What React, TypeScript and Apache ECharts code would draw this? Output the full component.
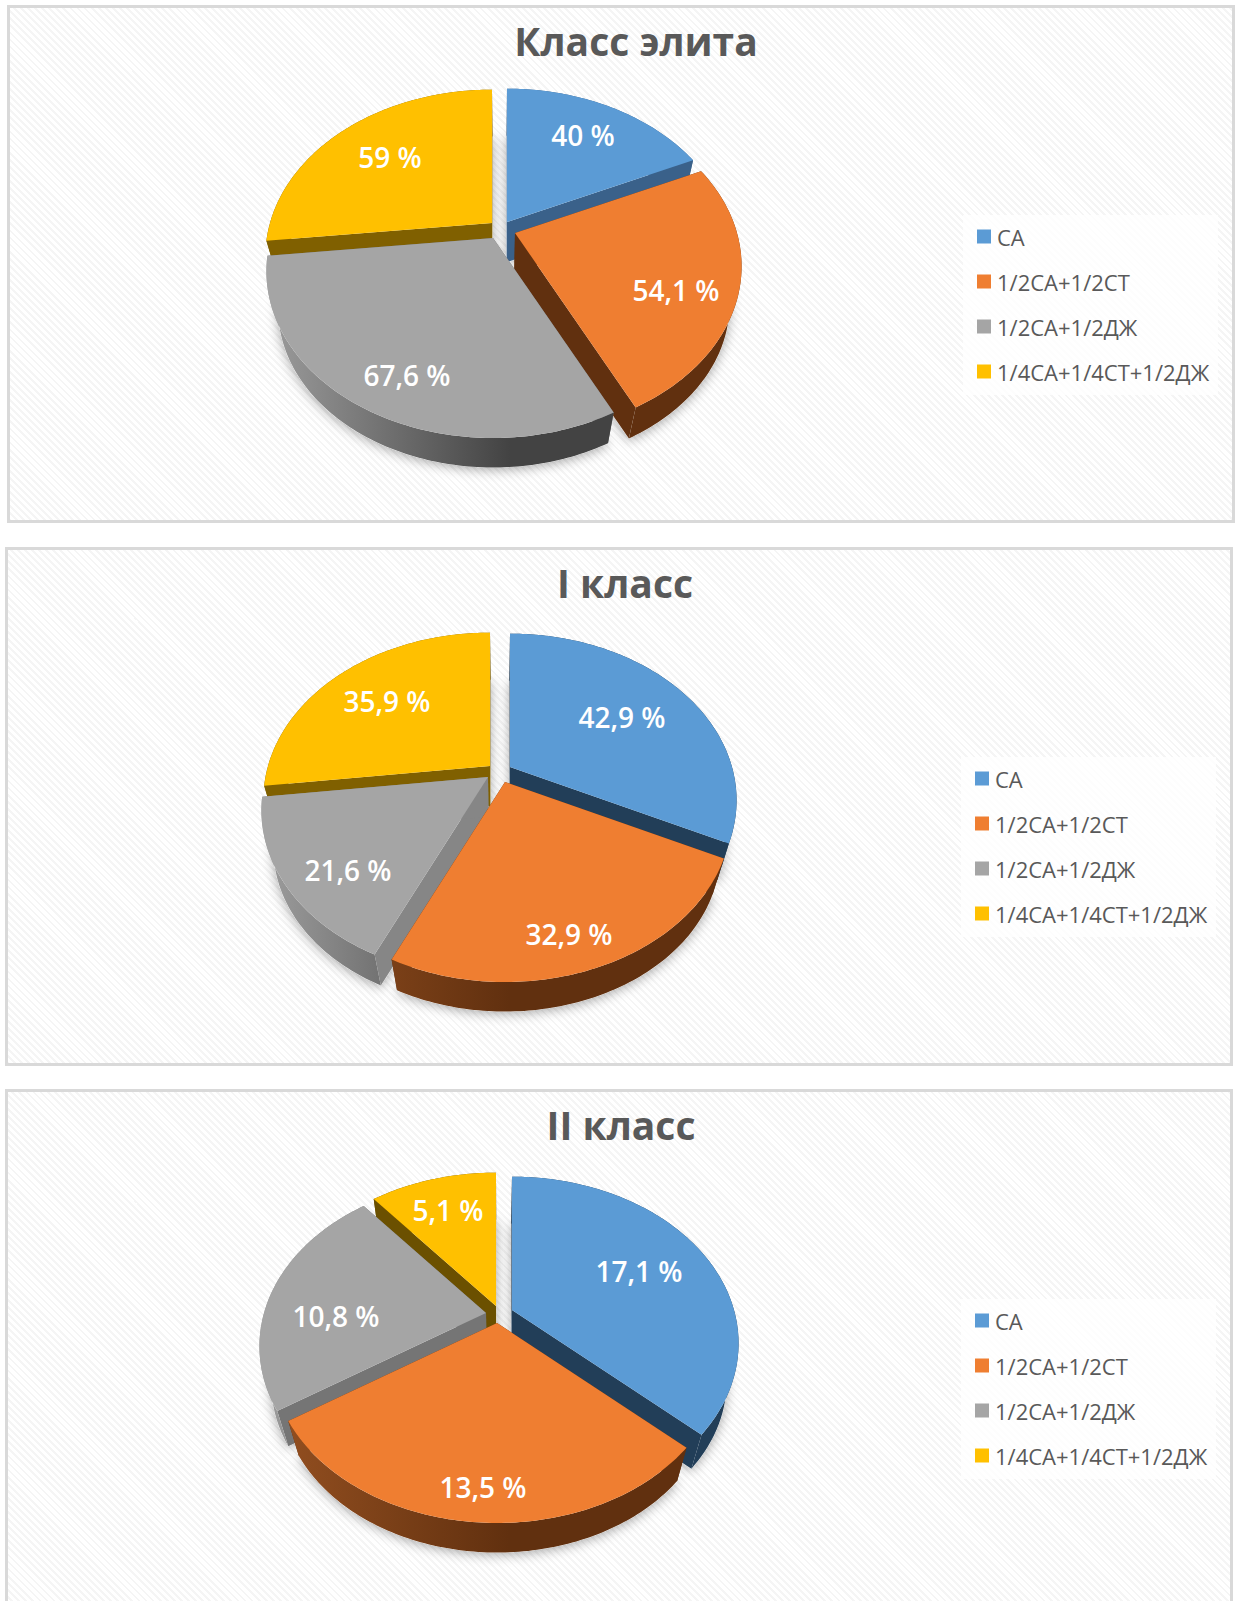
import React, { useEffect, useRef } from "react";
import * as echarts from "echarts";

const categories = ["СА", "1/2СА+1/2СТ", "1/2СА+1/2ДЖ", "1/4СА+1/4СТ+1/2ДЖ"];
const titles = ["Класс элита", "I класс", "II класс"];
const eliteValues = [40, 54.1, 67.6, 59];
const firstClassValues = [42.9, 32.9, 21.6, 35.9];
const secondClassValues = [17.1, 13.5, 10.8, 5.1];
const valueSets = [eliteValues, firstClassValues, secondClassValues];

const topColors = ["#5b9bd5", "#ef7e31", "#a5a5a5", "#ffc000"];

const Rx = 222;
const Ry = 160;
const PERSP = 0.2;
const VANISH = 800;
const SHRINK = 0.95;
const FONT = "'Open Sans', 'Noto Sans', sans-serif";

const layouts = [
  {
    frame: [7, 5, 1228, 518],
    center: [500, 228],
    apexes: [[507, 222], [515, 233], [493, 238], [492, 223]],
    labels: [[583, 135], [676, 290], [407, 375], [390, 157]],
    wall: ["#3a618a", "#61300f", "#6e6e6e", "#806000"],
    titleAt: [636, 40],
    legend: [977, 225],
    legendBox: [963, 215, 255, 180],
  },
  {
    frame: [5, 547, 1228, 519],
    center: [500, 773],
    apexes: [[510, 767], [505, 782], [488, 777], [490, 766]],
    labels: [[622, 717], [569, 934], [348, 870], [387, 701]],
    wall: ["#223e58", "#61300f", "#868686", "#806000"],
    titleAt: [625, 582],
    legend: [975, 767],
    legendBox: [961, 757, 255, 180],
  },
  {
    frame: [5, 1089, 1228, 560],
    center: [499, 1314],
    apexes: [[512, 1310], [497, 1323], [486, 1313], [496, 1306]],
    labels: [[639, 1271], [483, 1487], [336, 1316], [448, 1210]],
    wall: ["#223e58", "#61300f", "#757575", "#6b5000"],
    titleAt: [621, 1124],
    legend: [975, 1309],
    legendBox: [961, 1299, 255, 180],
  },
];

function geometry(cx: number, cy: number, ax: number, ay: number, start: number, sweep: number) {
  const project = (theta: number, r: number) => {
    const u = r * Math.sin(theta);
    const v = -r * Math.cos(theta);
    const w = 1 - PERSP * v;
    return [ax + (Rx * u) / w, ay + (Ry * v) / w];
  };
  const low = (p: number[]) => [
    cx + (p[0] - cx) * SHRINK,
    cy + VANISH + (p[1] - cy - VANISH) * SHRINK,
  ];
  const steps = Math.max(4, Math.round((sweep * 180) / Math.PI));
  const arc = () => {
    const pts: number[][] = [];
    for (let i = 0; i <= steps; i++) pts.push(project(start + (sweep * i) / steps, 1));
    return pts;
  };
  return { project, arc, low };
}

function rimFill(index: number, cx: number, wall: string) {
  if (index === 1) {
    return {
      type: "linear", x: cx - Rx, y: 0, x2: cx + 10, y2: 0, global: true,
      colorStops: [{ offset: 0, color: "#934f20" }, { offset: 1, color: "#61300f" }],
    };
  }
  if (index === 2) {
    return {
      type: "linear", x: cx - Rx, y: 0, x2: cx + 10, y2: 0, global: true,
      colorStops: [{ offset: 0, color: "#989898" }, { offset: 1, color: "#434343" }],
    };
  }
  return wall;
}

function sliceGeometry(layout: any, index: number, ox: number, oy: number, start: number, sweep: number) {
  return geometry(
    layout.center[0] - ox,
    layout.center[1] - oy,
    layout.apexes[index][0] - ox,
    layout.apexes[index][1] - oy,
    start,
    sweep
  );
}

function sliceRenderer(layout: any, index: number, ox: number, oy: number) {
  return (_params: any, api: any) => {
    const value = api.value(0);
    const before = api.value(1);
    const total = api.value(2);
    const start = (before / total) * Math.PI * 2;
    const sweep = (value / total) * Math.PI * 2;
    const cx = layout.center[0] - ox;
    const g = sliceGeometry(layout, index, ox, oy, start, sweep);
    const top = g.arc();
    const bottom = top.map(g.low);
    const apex = g.project(0, 0);
    const wallFill = layout.wall[index];
    const quad = (p: number[], q: number[]) => [p, q, g.low(q), g.low(p)];
    const [lx, ly] = layout.labels[index];
    return {
      type: "group",
      children: [
        { type: "polygon", shape: { points: quad(apex, top[0]) }, style: { fill: wallFill } },
        { type: "polygon", shape: { points: quad(apex, top[top.length - 1]) }, style: { fill: wallFill } },
        {
          type: "polygon",
          shape: { points: top.concat(bottom.slice().reverse()) },
          style: { fill: rimFill(index, cx, wallFill) },
        },
        { type: "polygon", shape: { points: [apex].concat(top) }, style: { fill: topColors[index] } },
        {
          type: "text",
          x: lx - ox,
          y: ly - oy,
          style: {
            text: String(value).replace(".", ",") + " %",
            fill: "#ffffff",
            font: `600 28px ${FONT}`,
            align: "center",
            verticalAlign: "middle",
          },
        },
      ],
    };
  };
}

function shadowRenderer(layout: any, ox: number, oy: number) {
  return (_params: any, api: any) => {
    const index = api.value(3);
    const start = (api.value(1) / api.value(2)) * Math.PI * 2;
    const sweep = (api.value(0) / api.value(2)) * Math.PI * 2;
    const g = sliceGeometry(layout, index, ox, oy, start, sweep);
    const pts = [g.project(0, 0)].concat(g.arc()).map(g.low);
    return {
      type: "polygon",
      shape: { points: pts },
      style: { fill: "#ffffff", shadowBlur: 12, shadowColor: "rgba(0,0,0,0.35)", shadowOffsetY: 2 },
    };
  };
}

function buildOption(i: number) {
  const layout = layouts[i];
  const values = valueSets[i];
  const [ox, oy] = layout.frame;
  const total = values.reduce((a, b) => a + b, 0);
  const befores = values.map((_, k) => values.slice(0, k).reduce((a, b) => a + b, 0));
  const depthRank = values.map((v, k) => -Math.cos(((befores[k] + v / 2) / total) * Math.PI * 2));
  const order = depthRank.map((d, k) => [d, k]).sort((a, b) => a[0] - b[0]).map((p) => p[1]);
  const series: any[] = categories.map((name, k) => ({
    type: "custom",
    name,
    coordinateSystem: "none",
    silent: true,
    z: 5 + order.indexOf(k),
    itemStyle: { color: topColors[k] },
    renderItem: sliceRenderer(layout, k, ox, oy),
    data: [[values[k], befores[k], total]],
  }));
  series.push({
    type: "custom",
    name: "shadow",
    coordinateSystem: "none",
    silent: true,
    z: 1,
    renderItem: shadowRenderer(layout, ox, oy),
    data: values.map((v, k) => [v, befores[k], total, k]),
  });
  const [bx, by, bw, bh] = layout.legendBox;
  return {
    animation: false,
    backgroundColor: "transparent",
    title: {
      text: titles[i],
      left: layout.titleAt[0] - ox,
      top: layout.titleAt[1] - oy,
      textAlign: "center",
      textVerticalAlign: "middle",
      textStyle: { color: "#595959", fontFamily: FONT, fontWeight: "bold", fontSize: 39 },
      padding: 0,
    },
    graphic: [
      {
        type: "rect",
        z: 0,
        shape: { x: bx - ox, y: by - oy, width: bw, height: bh },
        style: { fill: "rgba(255,255,255,0.75)" },
      },
    ],
    legend: {
      data: categories,
      orient: "vertical",
      left: layout.legend[0] - ox,
      top: layout.legend[1] - oy,
      padding: 0,
      icon: "rect",
      itemWidth: 14,
      itemHeight: 14,
      itemGap: 22,
      textStyle: { color: "#595959", fontFamily: FONT, fontSize: 22, padding: [0, 0, 0, 1], lineHeight: 23 },
    },
    series,
  };
}

function Panel({ i }: { i: number }) {
  const ref = useRef<HTMLDivElement>(null);
  const [x, y, w, h] = layouts[i].frame;
  useEffect(() => {
    const chart = echarts.init(ref.current!, undefined, { renderer: "svg" });
    chart.setOption(buildOption(i) as any);
    return () => chart.dispose();
  }, [i]);
  return (
    <div
      ref={ref}
      style={{
        position: "absolute",
        left: x,
        top: y,
        width: w,
        height: h,
        boxShadow: "inset 0 0 0 3px #d9d9d9",
        background: "repeating-linear-gradient(45deg, #ffffff 0 3px, #f5f5f5 3px 5px)",
      }}
    />
  );
}

export default function App() {
  return (
    <div style={{ position: "absolute", left: 0, top: 0, width: 1240, height: 1601, overflow: "hidden", background: "#fff" }}>
      {layouts.map((_, i) => (
        <Panel key={i} i={i} />
      ))}
    </div>
  );
}
